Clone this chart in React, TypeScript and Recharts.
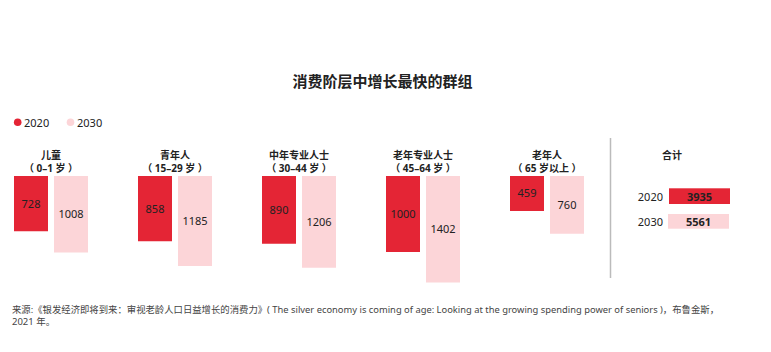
import React from 'react';
import { BarChart, Bar, XAxis, YAxis, LabelList } from 'recharts';

const categories = ['儿童', '青年人', '中年专业人士', '老年专业人士', '老年人'];
const ageRanges = ['（ 0–1 岁 ）', '（ 15–29 岁 ）', '（ 30–44 岁 ）', '（ 45–64 岁 ）', '（ 65 岁以上 ）'];
const values2020 = [728, 858, 890, 1000, 459];
const values2030 = [1008, 1185, 1206, 1402, 760];
const seriesNames = ['2020', '2030'];
const totals = [3935, 5561];

const RED = '#E42535';
const PINK = '#FCD5D8';
const FONT = '"Noto Sans", "Noto Sans CJK SC", sans-serif';

const data = categories.map((c, i) => ({ name: c, v2020: values2020[i], v2030: values2030[i] }));

const CatTick = (props: any) => {
  const { x, y, payload } = props;
  const i = categories.indexOf(payload.value);
  return (
    <g>
      <text x={x} y={y - 21.5} textAnchor="middle" dominantBaseline="central" fontSize={10} fontWeight={700} fill="#222" fontFamily={FONT}>
        {categories[i]}
      </text>
      <text x={x} y={y - 8.5} textAnchor="middle" dominantBaseline="central" fontSize={10} fontWeight={700} fill="#222" fontFamily={FONT}>
        {ageRanges[i]}
      </text>
    </g>
  );
};

export default function App() {
  return (
    <div style={{ position: 'absolute', left: 0, top: 0, width: 771, height: 352, background: '#fff', fontFamily: FONT, overflow: 'hidden' }}>
      <div style={{ position: 'absolute', left: 0, top: 70, width: 771, textAlign: 'center' }}>
        <span style={{ position: 'absolute', left: 382.5, transform: 'translateX(-50%)', whiteSpace: 'nowrap', fontSize: 15, fontWeight: 700, color: '#222', lineHeight: '22px' }}>
          消费阶层中增长最快的群组
        </span>
      </div>

      <svg style={{ position: 'absolute', left: 0, top: 0 }} width={771} height={352}>
        <circle cx={17.7} cy={122.3} r={3.8} fill={RED} />
        <text x={24} y={122.5} dominantBaseline="central" fontSize={11} fill="#222" fontFamily={FONT}>{seriesNames[0]}</text>
        <circle cx={70.5} cy={122.3} r={3.8} fill={PINK} />
        <text x={77} y={122.5} dominantBaseline="central" fontSize={11} fill="#222" fontFamily={FONT}>{seriesNames[1]}</text>

        <line x1={610.5} y1={138} x2={610.5} y2={278} stroke="#BBBBBB" strokeWidth={1.5} />

        <text x={672} y={155} textAnchor="middle" dominantBaseline="central" fontSize={10} fontWeight={700} fill="#222" fontFamily={FONT}>合计</text>
        <text x={663} y={196} textAnchor="end" dominantBaseline="central" fontSize={11} fill="#222" fontFamily={FONT}>{seriesNames[0]}</text>
        <rect x={669} y={188.3} width={61} height={15.7} fill={RED} />
        <text x={699.5} y={196.3} textAnchor="middle" dominantBaseline="central" fontSize={11} fontWeight={700} fill="#222" fontFamily={FONT}>{totals[0]}</text>
        <text x={663} y={221.5} textAnchor="end" dominantBaseline="central" fontSize={11} fill="#222" fontFamily={FONT}>{seriesNames[1]}</text>
        <rect x={668} y={214} width={61} height={14.7} fill={PINK} />
        <text x={698.5} y={221.5} textAnchor="middle" dominantBaseline="central" fontSize={11} fontWeight={700} fill="#222" fontFamily={FONT}>{totals[1]}</text>

        <text x={12} y={309} dominantBaseline="central" fontSize={9.5} fill="#444" fontFamily={FONT} textLength={707} lengthAdjust="spacingAndGlyphs">
          来源:《银发经济即将到来：审视老龄人口日益增长的消费力》( The silver economy is coming of age: Looking at the growing spending power of seniors )，布鲁金斯，
        </text>
        <text x={12} y={321.5} dominantBaseline="central" fontSize={9.5} fill="#444" fontFamily={FONT}>
          2021 年。
        </text>
      </svg>

      <div style={{ position: 'absolute', left: -11, top: 0 }}>
        <BarChart width={620} height={290} data={data} margin={{ top: 146, right: 0, bottom: 0, left: 0 }} barSize={34} barGap={6}>
          <XAxis dataKey="name" orientation="top" height={30} axisLine={false} tickLine={false} tickSize={0} tickMargin={0} interval={0} tick={<CatTick />} />
          <YAxis hide reversed domain={[0, 1500]} />
          <Bar dataKey="v2020" fill={RED} isAnimationActive={false}>
            <LabelList dataKey="v2020" position="center" fill="#222" fontSize={11} fontFamily={FONT} />
          </Bar>
          <Bar dataKey="v2030" fill={PINK} isAnimationActive={false}>
            <LabelList dataKey="v2030" position="center" fill="#222" fontSize={11} fontFamily={FONT} />
          </Bar>
        </BarChart>
      </div>
    </div>
  );
}
